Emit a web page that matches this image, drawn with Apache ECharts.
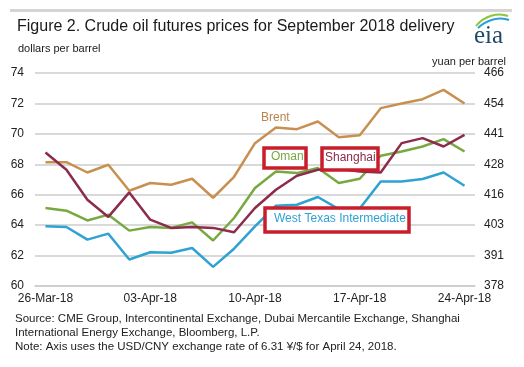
<!DOCTYPE html>
<html>
<head>
<meta charset="utf-8">
<script src="https://cdn.jsdelivr.net/npm/echarts@6/dist/echarts.min.js"></script>
<style>
html,body{margin:0;padding:0;background:#fff;}
#chart{width:524px;height:367px;}
</style>
</head>
<body>
<div id="chart"></div>
<script>
var categories = ['26-Mar-18','27-Mar-18','28-Mar-18','29-Mar-18','02-Apr-18','03-Apr-18','04-Apr-18','05-Apr-18','06-Apr-18','09-Apr-18','10-Apr-18','11-Apr-18','12-Apr-18','13-Apr-18','16-Apr-18','17-Apr-18','18-Apr-18','19-Apr-18','20-Apr-18','23-Apr-18','24-Apr-18'];
var brent    = [68.14,68.14,67.46,67.97,66.26,66.77,66.66,67.05,65.80,67.18,69.39,70.41,70.31,70.81,69.78,69.91,71.69,72.00,72.28,72.89,72.00];
var oman     = [65.13,64.95,64.31,64.69,63.64,63.88,63.82,64.18,62.99,64.47,66.44,67.53,67.42,67.75,66.77,67.05,68.56,68.84,69.17,69.65,68.84];
var shanghai = [68.77,67.64,65.67,64.54,66.15,64.36,63.82,63.88,63.82,63.53,65.13,66.33,67.25,67.64,67.70,67.53,67.46,69.39,69.72,69.17,69.93];
var wti      = [63.92,63.88,63.05,63.44,61.74,62.22,62.18,62.50,61.26,62.45,63.92,65.28,65.34,65.85,65.05,65.10,66.87,66.87,67.03,67.46,66.59];
var usdTicks = [60,62,64,66,68,70,72,74];
var yuanTickLabels = ['378','391','403','416','428','441','454','466'];

var chart = echarts.init(document.getElementById('chart'), null, {renderer:'canvas'});
var FONT = '"Liberation Sans", Arial, sans-serif';
var gridColor = '#cccccc';

function ser(name, data, color){
  return {name:name, type:'line', data:data, symbol:'none', smooth:false,
    lineStyle:{color:color, width:2.5}, itemStyle:{color:color}, z:2, animation:false};
}

var option = {
  animation:false,
  backgroundColor:'#ffffff',
  textStyle:{fontFamily:FONT},
  title:[
    {text:'Figure 2. Crude oil futures prices for September 2018 delivery', left:12, top:14,
     textStyle:{fontSize:16, fontWeight:'normal', color:'#1a1a1a', fontFamily:FONT}},
    {text:'dollars per barrel', left:13, top:38,
     textStyle:{fontSize:11, fontWeight:'normal', color:'#1a1a1a', fontFamily:FONT}},
    {text:'yuan per barrel', right:13, top:51,
     textStyle:{fontSize:11, fontWeight:'normal', color:'#1a1a1a', fontFamily:FONT}}
  ],
  grid:{left:35, right:49, top:73, bottom:81, containLabel:false},
  xAxis:{type:'category', data:categories, boundaryGap:true,
    axisLine:{show:true, lineStyle:{color:gridColor, width:1.5}},
    axisTick:{show:false},
    axisLabel:{interval:4, color:'#222', fontSize:12, margin:7, fontFamily:FONT},
    splitLine:{show:false}},
  yAxis:[
    {type:'value', min:usdTicks[0], max:usdTicks[usdTicks.length-1], interval:2, position:'left',
     axisLine:{show:false}, axisTick:{show:false},
     axisLabel:{color:'#222', fontSize:12, margin:11, fontFamily:FONT},
     splitLine:{show:true, lineStyle:{color:gridColor, width:1.5}}},
    {type:'value', min:usdTicks[0], max:usdTicks[usdTicks.length-1], interval:2, position:'right',
     axisLine:{show:false}, axisTick:{show:false},
     axisLabel:{color:'#222', fontSize:12, margin:9, fontFamily:FONT,
       formatter:function(v){var i=usdTicks.indexOf(v); return i>=0?yuanTickLabels[i]:'';}},
     splitLine:{show:false}}
  ],
  series:[
    ser('Brent', brent, '#c89050'),
    ser('Oman', oman, '#78a840'),
    ser('Shanghai', shanghai, '#8c2b4a'),
    ser('West Texas Intermediate', wti, '#2ea2d2')
  ],
  graphic:[
    {type:'rect', shape:{x:10, y:9, width:502, height:3}, style:{fill:'#d4d4d4'}, z:0},
    // eia logo
    {type:'bezierCurve', shape:{x1:476,y1:26,x2:508,y2:16,cpx1:484,cpy1:16,cpx2:498,cpy2:12}, style:{stroke:'#8cc63f', lineWidth:2, fill:null}, z:10},
    {type:'bezierCurve', shape:{x1:478,y1:28,x2:509,y2:20,cpx1:486,cpy1:20,cpx2:500,cpy2:16}, style:{stroke:'#2a9fd6', lineWidth:2, fill:null}, z:10},
    {type:'text', x:474, y:24, style:{text:'eia', font:'25px "Liberation Serif", "DejaVu Serif", serif', fill:'#1d4a66'}, z:10},
    // series labels
    {type:'text', x:261, y:112, style:{text:'Brent', font:'12px '+FONT, fill:'#b8844c'}, z:10},
    {type:'rect', shape:{x:264, y:148, width:42, height:20}, style:{fill:'#ffffff', stroke:'#c81e2c', lineWidth:3.5}, z:9},
    {type:'text', x:271, y:151, style:{text:'Oman', font:'12px '+FONT, fill:'#78a840'}, z:10},
    {type:'rect', shape:{x:322, y:148, width:56, height:22}, style:{fill:'#ffffff', stroke:'#c81e2c', lineWidth:3.5}, z:9},
    {type:'text', x:325, y:152, style:{text:'Shanghai', font:'12px '+FONT, fill:'#8c2b4a'}, z:10},
    {type:'rect', shape:{x:265, y:208, width:144, height:24}, style:{fill:'#ffffff', stroke:'#c81e2c', lineWidth:3.5}, z:9},
    {type:'text', x:274, y:213, style:{text:'West Texas Intermediate', font:'12px '+FONT, fill:'#2ea2d2'}, z:10},
    // footer
    {type:'text', x:15, y:312, style:{text:'Source: CME Group, Intercontinental Exchange, Dubai Mercantile Exchange, Shanghai\nInternational Energy Exchange, Bloomberg, L.P.\nNote: Axis uses the USD/CNY exchange rate of 6.31 \u00a5/$ for April 24, 2018.', font:'11.5px '+FONT, fill:'#222', lineHeight:14}, z:10}
  ]
};
chart.setOption(option);
</script>
</body>
</html>
